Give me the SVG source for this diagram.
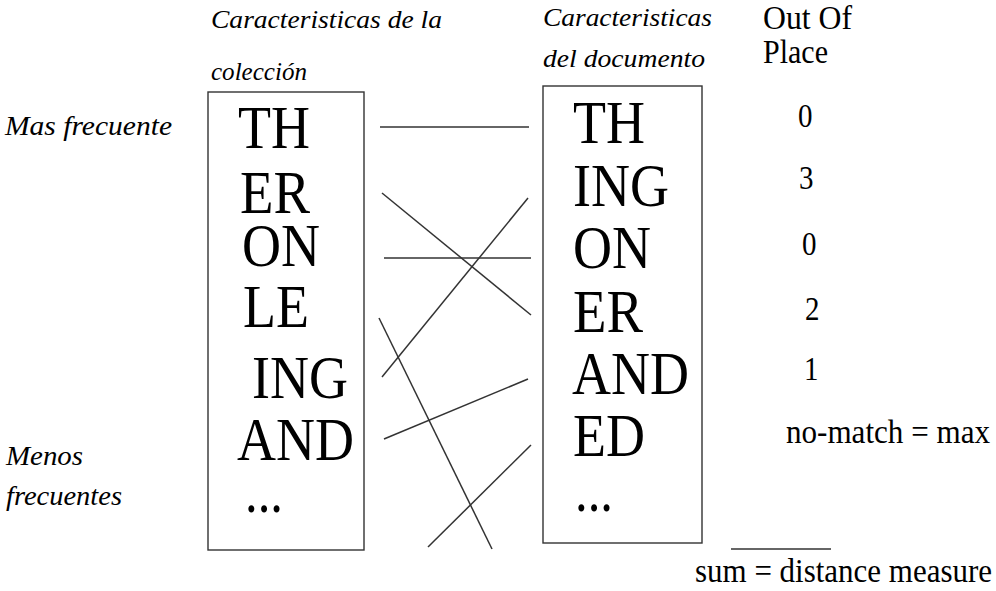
<svg xmlns="http://www.w3.org/2000/svg" width="996" height="591" viewBox="0 0 996 591">
<style>
.big{font-size:54px;fill:#000}
.num{font-size:29px;fill:#000}
.ital{font-style:italic;font-size:22px;fill:#000}
.side{font-style:italic;font-size:24px;fill:#000}
.box{fill:#fff;stroke:#333;stroke-width:1.4}
.ln{stroke:#333;stroke-width:1.5;fill:none}
</style>
<rect width="996" height="591" fill="#fff"/>
<g font-family="'Liberation Serif', 'DejaVu Serif', serif">
<g id="header-coleccion">
<text class="ital" transform="translate(211 28) scale(1 1.13)" textLength="231" lengthAdjust="spacingAndGlyphs">Caracteristicas de la</text>
<text class="ital" transform="translate(211 80) scale(1 1.13)" textLength="96" lengthAdjust="spacingAndGlyphs">colección</text>
</g>
<g id="header-documento">
<text class="ital" transform="translate(543 26) scale(1 1.13)" textLength="169" lengthAdjust="spacingAndGlyphs">Caracteristicas</text>
<text class="ital" transform="translate(543 67) scale(1 1.13)" textLength="162" lengthAdjust="spacingAndGlyphs">del documento</text>
</g>
<g id="header-outofplace">
<text class="num" transform="translate(763 29) scale(1 1.13)" textLength="89" lengthAdjust="spacingAndGlyphs">Out Of</text>
<text class="num" transform="translate(763 63) scale(1 1.13)" textLength="65" lengthAdjust="spacingAndGlyphs">Place</text>
</g>
<g id="label-mas">
<text class="side" transform="translate(5 135) scale(1 1.13)" textLength="167" lengthAdjust="spacingAndGlyphs">Mas frecuente</text>
</g>
<g id="label-menos">
<text class="side" transform="translate(6 465) scale(1 1.13)" textLength="77" lengthAdjust="spacingAndGlyphs">Menos</text>
<text class="side" transform="translate(6 505) scale(1 1.13)" textLength="116" lengthAdjust="spacingAndGlyphs">frecuentes</text>
</g>
<g id="box-coleccion">
<rect class="box" x="208" y="92" width="156" height="458"/>
<text class="big" transform="translate(238 148) scale(1 1.13)" textLength="72" lengthAdjust="spacingAndGlyphs">TH</text>
<text class="big" transform="translate(240 213) scale(1 1.13)" textLength="70" lengthAdjust="spacingAndGlyphs">ER</text>
<text class="big" transform="translate(242 266) scale(1 1.13)" textLength="78" lengthAdjust="spacingAndGlyphs">ON</text>
<text class="big" transform="translate(243 327) scale(1 1.13)" textLength="66" lengthAdjust="spacingAndGlyphs">LE</text>
<text class="big" transform="translate(252 398) scale(1 1.13)" textLength="96" lengthAdjust="spacingAndGlyphs">ING</text>
<text class="big" transform="translate(237 460) scale(1 1.13)" textLength="117" lengthAdjust="spacingAndGlyphs">AND</text>
<text class="big" transform="translate(245 512) scale(1 1.13)" textLength="38" lengthAdjust="spacingAndGlyphs">...</text>
</g>
<g id="box-documento">
<rect class="box" x="543" y="86" width="159" height="457"/>
<text class="big" transform="translate(573 143) scale(1 1.13)" textLength="72" lengthAdjust="spacingAndGlyphs">TH</text>
<text class="big" transform="translate(573 206) scale(1 1.13)" textLength="96" lengthAdjust="spacingAndGlyphs">ING</text>
<text class="big" transform="translate(573 268) scale(1 1.13)" textLength="78" lengthAdjust="spacingAndGlyphs">ON</text>
<text class="big" transform="translate(573 332) scale(1 1.13)" textLength="70" lengthAdjust="spacingAndGlyphs">ER</text>
<text class="big" transform="translate(572 394) scale(1 1.13)" textLength="117" lengthAdjust="spacingAndGlyphs">AND</text>
<text class="big" transform="translate(573 456) scale(1 1.13)" textLength="72" lengthAdjust="spacingAndGlyphs">ED</text>
<text class="big" transform="translate(575 511) scale(1 1.13)" textLength="38" lengthAdjust="spacingAndGlyphs">...</text>
</g>
<g id="scores">
<text class="num" transform="translate(798 127) scale(1 1.13)">0</text>
<text class="num" transform="translate(799 189) scale(1 1.13)">3</text>
<text class="num" transform="translate(802 255) scale(1 1.13)">0</text>
<text class="num" transform="translate(805 320) scale(1 1.13)">2</text>
<text class="num" transform="translate(804 380) scale(1 1.13)">1</text>
<text class="num" transform="translate(786 443) scale(1 1.13)" textLength="204" lengthAdjust="spacingAndGlyphs">no-match = max</text>
</g>
<g id="sum">
<line class="ln" x1="731" y1="549" x2="831" y2="549"/>
<text class="num" transform="translate(695 582) scale(1 1.13)" textLength="297" lengthAdjust="spacingAndGlyphs">sum = distance measure</text>
</g>
</g>
<g id="connectors">
<line class="ln" x1="380" y1="127" x2="529" y2="127"/>
<line class="ln" x1="382" y1="193" x2="531" y2="315"/>
<line class="ln" x1="384" y1="258" x2="531" y2="258"/>
<line class="ln" x1="382" y1="377" x2="528" y2="198"/>
<line class="ln" x1="379" y1="318" x2="492" y2="549"/>
<line class="ln" x1="384" y1="439" x2="528" y2="379"/>
<line class="ln" x1="428" y1="547" x2="531" y2="445"/>
</g>
</svg>
